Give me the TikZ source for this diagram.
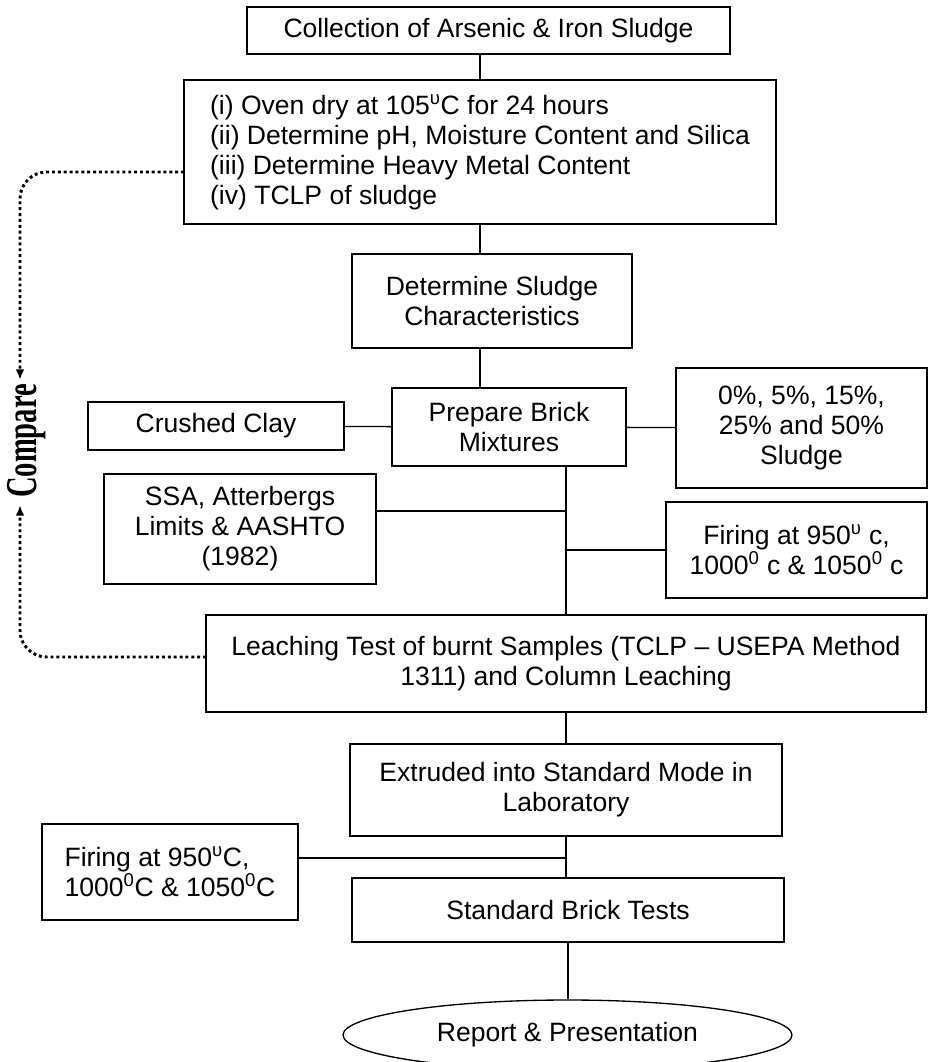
\documentclass[tikz,border=0pt]{standalone}
\usepackage{fontspec}
\setmainfont{Liberation Sans}
\newfontfamily\cmpfont{Liberation Serif}
\usepackage{tikz}
\usetikzlibrary{arrows.meta}
\usetikzlibrary{shapes.geometric}

\begin{document}
\begin{tikzpicture}[x=0.75pt, y=-0.75pt, line width=1pt,
		box/.style={draw, rectangle, inner sep=0pt, align=center, font=\fontsize{19.9}{22.5}\selectfont},
		cmpline/.style={line width=2.2pt, dash pattern=on 2.2pt off 2.2pt, rounded corners=20pt},
		cmptip/.style={-{Latex[length=8pt,width=6.5pt]}}]
		\useasboundingbox (0,0) rectangle (928,1062);
		
		\node[box, minimum width=362.25pt, minimum height=35.25pt] (collect) at (488.5,30.5) {Collection of Arsenic \& Iron Sludge};
		\node[box, align=left, minimum width=444pt, minimum height=108pt] (dry) at (480,152) {(i) Oven dry at 105\textsuperscript{υ}C for 24 hours\\(ii) Determine pH, Moisture Content and Silica\\(iii) Determine Heavy Metal Content\\(iv) TCLP of sludge};
		\node[box, minimum width=210pt, minimum height=70.5pt] (char) at (492,301) {Determine Sludge\\Characteristics};
		\node[box, minimum width=175.5pt, minimum height=58.5pt] (prep) at (509,427) {Prepare Brick\\Mixtures};
		\node[box, minimum width=192pt, minimum height=36pt] (clay) at (216,426) {Crushed Clay};
		\node[box, minimum width=188.25pt, minimum height=90pt] (pct) at (801.5,428) {0\%, 5\%, 15\%,\\25\% and 50\%\\Sludge};
		\node[box, minimum width=204pt, minimum height=82.5pt] (ssa) at (240,529) {SSA, Atterbergs\\Limits \& AASHTO\\(1982)};
		\node[box, minimum width=195.75pt, minimum height=72pt] (fire1) at (796.5,550) {Firing at 950\textsuperscript{υ} c,\\1000\textsuperscript{0} c \& 1050\textsuperscript{0} c};
		\node[box, minimum width=540pt, minimum height=72.75pt] (leach) at (566,663.5) {Leaching Test of burnt Samples (TCLP -- USEPA Method\\1311) and Column Leaching};
		\node[box, minimum width=324pt, minimum height=69pt] (ext) at (566,790) {Extruded into Standard Mode in\\Laboratory};
		\node[box, align=left, minimum width=192pt, minimum height=72pt] (fire2) at (170,872) {Firing at 950\textsuperscript{υ}C,\\1000\textsuperscript{0}C \& 1050\textsuperscript{0}C};
		\node[box, minimum width=324pt, minimum height=48pt] (std) at (568,910) {Standard Brick Tests};
		\node[box, ellipse, minimum width=336.75pt, minimum height=52.5pt] (report) at (567.5,1035) {Report \& Presentation};
		
		% joints on the main line
		\coordinate (ssajoin) at (566,511);
		\coordinate (firejoin) at (566,858);
		\coordinate (dryout) at (184,172);
		\coordinate (leachout) at (206,657);
		\coordinate (cmpup) at (20,380);
		\coordinate (cmpdown) at (20,505);
		
		\draw (dry.north) -- (dry.north |- collect.south);
		\draw (dry.south) -- (dry.south |- char.north);
		\draw (char.south -| dry.south) -- (prep.north -| dry.south);
		\draw (clay) -- (prep);
		\draw (prep) -- (pct);
		\draw (prep.south -| leach.north) -- (leach.north);
		\draw (ssa.east |- ssajoin) -- (ssajoin);
		\draw (fire1.west) -- (fire1.west -| leach.north);
		\draw (leach) -- (ext);
		\draw (ext.south) -- (ext.south |- std.north);
		\draw (fire2.east |- firejoin) -- (firejoin);
		\draw (std.south) -- (std.south |- report.north);
		
		\draw[cmpline, cmptip] (dryout) -| (cmpup);
		\draw[cmpline, cmptip] (leachout) -| (cmpdown);
		\node[rotate=90, inner sep=0pt, font=\fontsize{33}{33}\selectfont\cmpfont\bfseries] (cmp) at (27,441) {\scalebox{0.65}[1]{Compare}};
	\end{tikzpicture}
\end{document}
